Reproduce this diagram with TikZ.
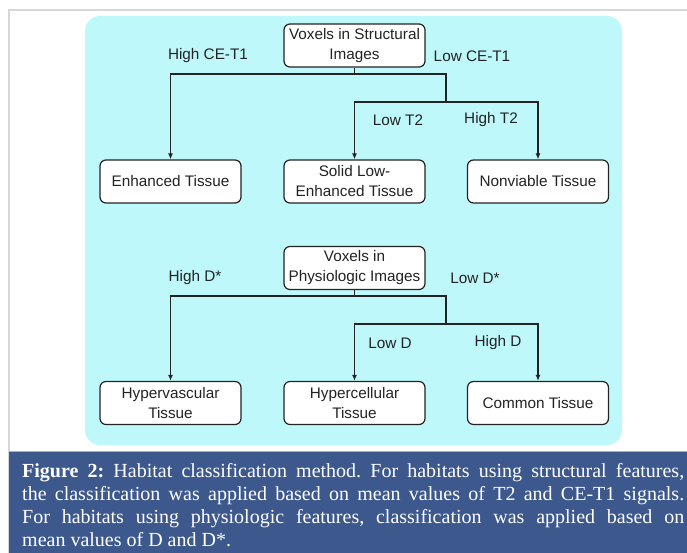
\documentclass[tikz,border=0pt]{standalone}
\usepackage{fontspec}
\usetikzlibrary{arrows.meta}
\newfontfamily\diafont{Liberation Sans}
\newfontfamily\capfont{Liberation Serif}
\definecolor{cyanbg}{RGB}{190,248,251}
\definecolor{capblue}{RGB}{60,88,140}
\definecolor{framegrey}{RGB}{215,215,215}
\definecolor{linecol}{RGB}{35,35,35}
\newcommand\capline[1]{\hbox to 662pt{\spaceskip=0.25em plus 1em minus 0.08em\xspaceskip=\spaceskip #1}}
\begin{document}
\begin{tikzpicture}[x=1pt,y=-1pt,
  box/.style={draw=linecol,line width=1.2pt,rounded corners=6pt,fill=white,
    minimum width=141pt,minimum height=43pt,inner sep=0pt,align=center,
    font=\diafont\fontsize{15.3}{20}\selectfont,text=linecol},
  lbl/.style={font=\diafont\fontsize{15.3}{20}\selectfont,inner sep=0pt,text=linecol},
  conn/.style={draw=linecol,line width=1.2pt},
  arr/.style={conn,-{Latex[length=6pt,width=5pt]}}]
\useasboundingbox (0,0) rectangle (687,553);
\fill[white] (0,0) rectangle (687,553);
% frame
\draw[framegrey,line width=1.2pt] (9,553) -- (9,10) -- (687,10);
% cyan panel
\fill[cyanbg,rounded corners=15pt] (85,16) rectangle (622,445);
% caption box
\fill[capblue] (9,451) rectangle (687,553);
\draw[framegrey!70!capblue,line width=1pt] (9,451.5) -- (687,451.5);
\node[anchor=north west,inner sep=0pt,text=white] (cap) at (22,463) {\capfont\fontsize{20}{23}\selectfont\frenchspacing\vbox{\baselineskip=23pt
\capline{\textbf{Figure 2:} Habitat classification method. For habitats using structural features,}
\capline{the classification was applied based on mean values of T2 and CE-T1 signals.}
\capline{For habitats using physiologic features, classification was applied based on}
\hbox{mean values of D and D*.}}};

% Tree 1
\node[box] (s) at (354.5,45.5) {Voxels in Structural\\Images};
\node[box] (e) at (170.5,181.5) {Enhanced Tissue};
\node[box] (sl) at (354.5,181.5) {Solid Low-\\Enhanced Tissue};
\node[box] (nv) at (538,181.5) {Nonviable Tissue};
\node[lbl] (l1) at (208,56) {High CE-T1};
\node[lbl] (l2) at (472,56) {Low CE-T1};
\node[lbl] (l3) at (398,120) {Low T2};
\node[lbl] (l4) at (491,120) {High T2};
\coordinate (j1) at (354.5,74);
\coordinate (j2) at (446,102);
\draw[conn] (s.south) -- (j1);
\draw[arr] (j1) -| (e.north);
\draw[conn] (j1) -| (j2);
\draw[arr] (j2) -| (sl.north);
\draw[arr] (j2) -| (nv.north);

% Tree 2
\node[box] (p) at (354.5,268) {Voxels in\\Physiologic Images};
\node[box] (hv) at (170.5,403) {Hypervascular\\Tissue};
\node[box] (hc) at (354.5,403) {Hypercellular\\Tissue};
\node[box] (ct) at (538,403) {Common Tissue};
\node[lbl] (m1) at (195,278) {High D*};
\node[lbl] (m2) at (475,278) {Low D*};
\node[lbl] (m3) at (390,343) {Low D};
\node[lbl] (m4) at (498,343) {High D};
\coordinate (k1) at (354.5,296);
\coordinate (k2) at (446,324);
\draw[conn] (p.south) -- (k1);
\draw[arr] (k1) -| (hv.north);
\draw[conn] (k1) -| (k2);
\draw[arr] (k2) -| (hc.north);
\draw[arr] (k2) -| (ct.north);
\end{tikzpicture}
\end{document}
